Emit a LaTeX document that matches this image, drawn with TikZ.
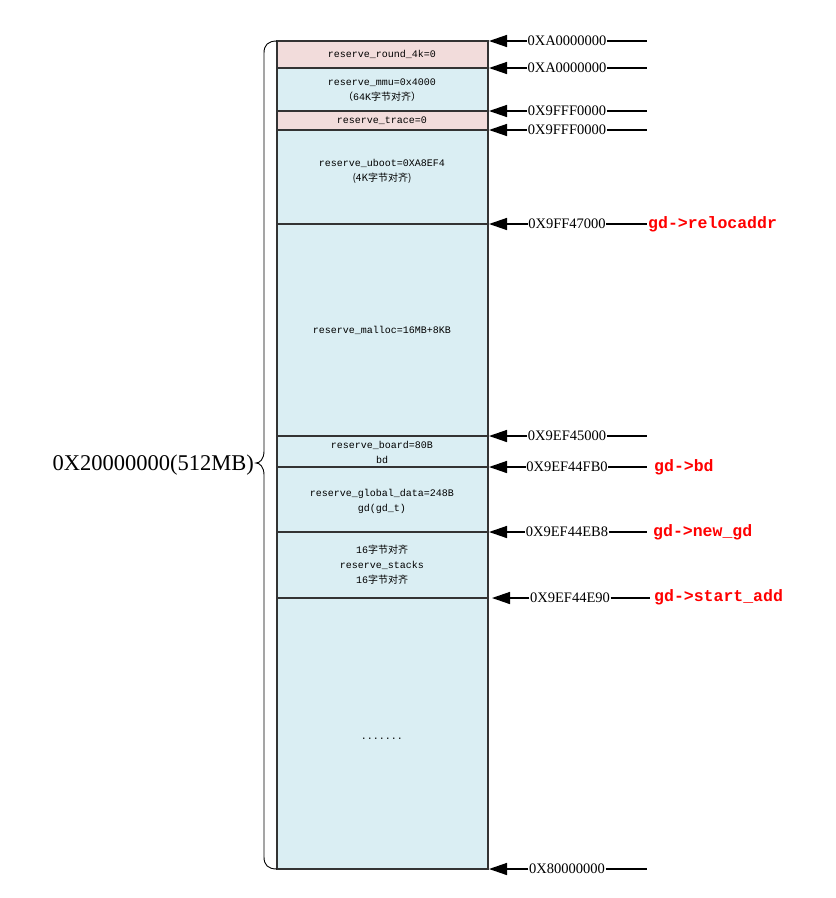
\documentclass[tikz,border=0pt]{standalone}
\usepackage{fontspec}
\setmainfont{Liberation Serif}
\setmonofont{Liberation Mono}
\newfontfamily\cjk{Noto Sans CJK SC}
\usetikzlibrary{arrows.meta}
\definecolor{memblue}{HTML}{DAEEF3}
\definecolor{mempink}{HTML}{F2DCDB}
\definecolor{memline}{HTML}{333333}
\newcommand{\zhtext}[1]{{\cjk #1}}

\begin{document}
\begin{tikzpicture}[x=1pt,y=-1pt,
  blk/.style={draw=memline,line width=1.6pt},
  memtxt/.style={font=\ttfamily\fontsize{10}{15}\selectfont,align=center},
  addr/.style={font=\fontsize{14.5}{16}\selectfont,inner sep=0.6pt},
  ptr/.style={line width=1.4pt,-{Triangle[length=18pt,width=12pt]}},
  gdtxt/.style={font=\ttfamily\bfseries\fontsize{16.5}{18}\selectfont,text=red,anchor=west,inner sep=0pt}]
\useasboundingbox (0,0) rectangle (836,898);
\foreach \ya/\yb/\col in {41/68/mempink,68/111/memblue,111/130/mempink,130/224/memblue,
  224/436/memblue,436/467/memblue,467/532/memblue,532/598/memblue,598/869/memblue}
  \draw[blk,fill=\col] (277,\ya) rectangle (488,\yb);
\node[memtxt] (round) at (382,54) {reserve\_round\_4k=0};
\node[memtxt] (mmu) at (382,90) {reserve\_mmu=0x4000\\\zhtext{（}64K\zhtext{字节对齐）}};
\node[memtxt] (trace) at (382,121) {reserve\_trace=0};
\node[memtxt] (uboot) at (382,171) {reserve\_uboot=0XA8EF4\\\zhtext{(4K字节对齐)}};
\node[memtxt] (malloc) at (382,330) {reserve\_malloc=16MB+8KB};
\node[memtxt] (board) at (382,452) {reserve\_board=80B\\bd};
\node[memtxt] (gdata) at (382,501) {reserve\_global\_data=248B\\gd(gd\_t)};
\node[memtxt] (stacks) at (382,565) {16\zhtext{字节对齐}\\reserve\_stacks\\16\zhtext{字节对齐}};
\node[memtxt] (rest) at (382,739) {.......};
\foreach \y/\dx/\a [count=\i] in {41/0/0XA0000000,68/0/0XA0000000,111/0/0X9FFF0000,
  130/0/0X9FFF0000,224/0/0X9FF47000,436/0/0X9EF45000,467/0/0X9EF44FB0,
  532/0/0X9EF44EB8,598/3/0X9EF44E90,869/0/0X80000000}{
  \node[addr] (a\i) at (567+\dx,\y) {\a};
  \coordinate (e\i) at (489+\dx,\y);
  \coordinate (f\i) at (647+\dx,\y);
  \draw[ptr] (a\i) -- (e\i);
  \draw[line width=1.4pt] (a\i) -- (f\i);
}
\node[gdtxt] (reloc) at (648,224) {gd->relocaddr};
\node[gdtxt] (gdbd) at (654,467) {gd->bd};
\node[gdtxt] (newgd) at (653,532) {gd->new\_gd};
\node[gdtxt] (start) at (654,597) {gd->start\_add};
\draw[line width=0.9pt] (277,41) .. controls (268,41) and (264,45) .. (264,53) -- (264,451)
  .. controls (264,459) and (260,463) .. (256,463) .. controls (260,463) and (264,467) .. (264,475)
  -- (264,857) .. controls (264,865) and (268,869) .. (277,869);
\node[font=\fontsize{22.5}{25}\selectfont,anchor=east,inner sep=1pt] (size) at (255,465) {0X20000000(512MB)};
\end{tikzpicture}
\end{document}
